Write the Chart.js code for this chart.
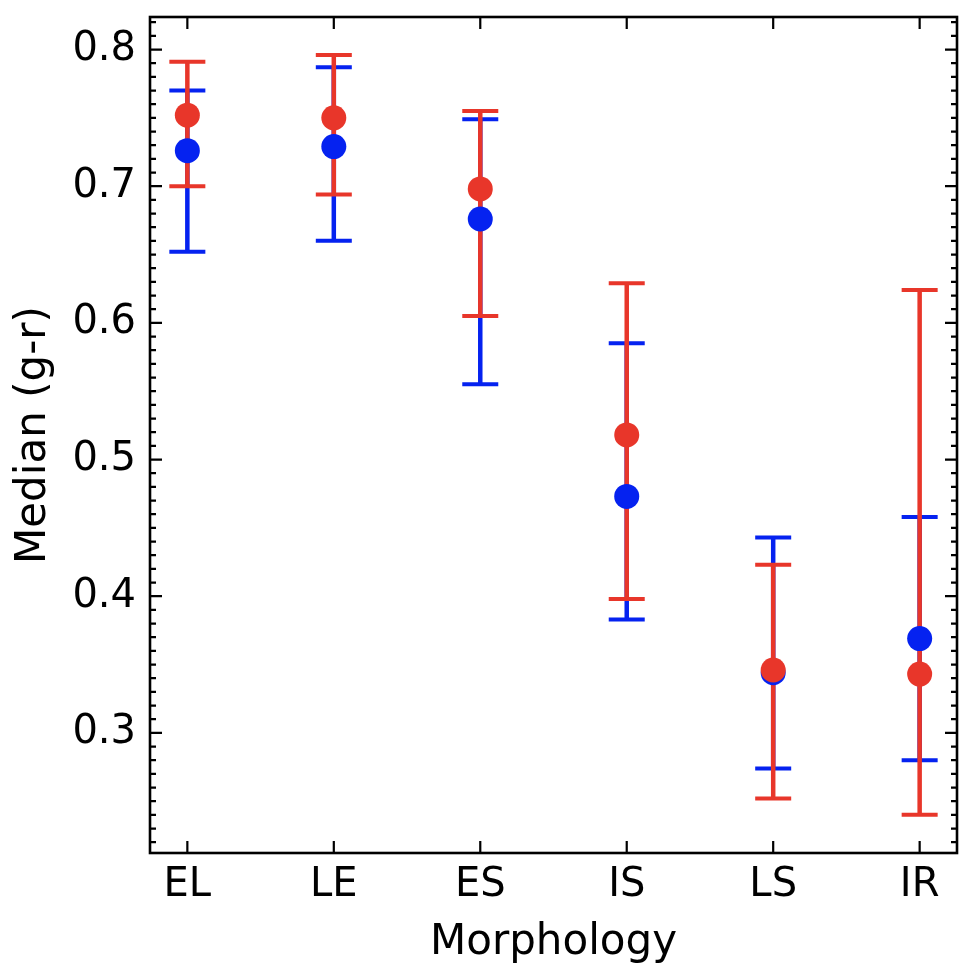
<!DOCTYPE html>
<html>
<head>
<meta charset="utf-8">
<script src="https://cdn.jsdelivr.net/npm/chart.js@4/dist/chart.umd.min.js"></script>
<style>
  html, body { margin: 0; padding: 0; background: #fff; }
  #chart { display: block; }
</style>
</head>
<body>
<canvas id="chart" width="976" height="974"></canvas>
<script>
const categories = ['EL', 'LE', 'ES', 'IS', 'LS', 'IR'];

// blue sample: median and error bar ends
const blueMedian = [0.726, 0.729, 0.676, 0.473, 0.344, 0.369];
const blueHigh = [0.770, 0.787, 0.749, 0.585, 0.443, 0.458];
const blueLow = [0.652, 0.660, 0.555, 0.383, 0.274, 0.280];

// red sample
const redMedian = [0.752, 0.750, 0.698, 0.518, 0.346, 0.343];
const redHigh = [0.791, 0.796, 0.755, 0.629, 0.423, 0.624];
const redLow = [0.700, 0.694, 0.605, 0.398, 0.252, 0.240];

const yTickValues = [0.3, 0.4, 0.5, 0.6, 0.7, 0.8];
const yTickLabels = ['0.3', '0.4', '0.5', '0.6', '0.7', '0.8'];

const BLUE = '#0522f0';
const RED = '#e8362a';
const FONT = "'DejaVu Sans', sans-serif";

function toPoints(vals) {
    return vals.map((v, i) => ({ x: i, y: v }));
}

// error bars go under the markers
const errorBars = {
    id: 'errorBars',
    beforeDatasetsDraw(chart) {
        const ctx = chart.ctx;
        const xs = chart.scales.x, ys = chart.scales.y;
        const area = chart.chartArea;
        const sets = [[blueLow, blueHigh, BLUE], [redLow, redHigh, RED]];
        ctx.save();
        ctx.beginPath();
        ctx.rect(area.left, area.top, area.right - area.left, area.bottom - area.top);
        ctx.clip();
        sets.forEach(([lo, hi, col]) => {
            ctx.strokeStyle = col;
            for (let i = 0; i < lo.length; i++) {
                let px = xs.getPixelForValue(i);
                let y1 = ys.getPixelForValue(lo[i]);
                let y2 = ys.getPixelForValue(hi[i]);
                ctx.lineWidth = 4.5;
                ctx.beginPath();
                ctx.moveTo(px, y1);
                ctx.lineTo(px, y2);
                ctx.stroke();
                ctx.lineWidth = 4;
                ctx.beginPath();
                ctx.moveTo(px - 18, y1); ctx.lineTo(px + 18, y1);
                ctx.moveTo(px - 18, y2); ctx.lineTo(px + 18, y2);
                ctx.stroke();
            }
        });
        ctx.restore();
    }
};

// box frame with inward ticks on all four sides
const frameTicks = {
    id: 'frameTicks',
    afterDraw(chart) {
        const ctx = chart.ctx;
        const xs = chart.scales.x, ys = chart.scales.y;
        const a = chart.chartArea;
        ctx.save();
        ctx.strokeStyle = '#000';
        ctx.lineWidth = 2.2;
        ctx.beginPath();
        yTickValues.forEach(v => {
            let py = ys.getPixelForValue(v);
            ctx.moveTo(a.left, py); ctx.lineTo(a.left + 12, py);
            ctx.moveTo(a.right, py); ctx.lineTo(a.right - 12, py);
        });
        for (let k = 22; k <= 82; k++) {
            if (k % 10 == 0) continue;
            let py = ys.getPixelForValue(k / 100);
            ctx.moveTo(a.left, py); ctx.lineTo(a.left + 6, py);
            ctx.moveTo(a.right, py); ctx.lineTo(a.right - 6, py);
        }
        categories.forEach((c, i) => {
            let px = xs.getPixelForValue(i);
            ctx.moveTo(px, a.bottom); ctx.lineTo(px, a.bottom - 12);
            ctx.moveTo(px, a.top); ctx.lineTo(px, a.top + 12);
        });
        ctx.stroke();
        ctx.lineWidth = 2.6;
        ctx.strokeRect(a.left, a.top, a.right - a.left, a.bottom - a.top);
        ctx.restore();
    }
};

const ctx = document.getElementById('chart').getContext('2d');
const chart = new Chart(ctx, {
    type: 'scatter',
    data: {
        datasets: [
            {
                label: 'blue',
                data: toPoints(blueMedian),
                backgroundColor: BLUE,
                borderWidth: 0,
                pointRadius: 12.5,
                order: 2
            },
            {
                label: 'red',
                data: toPoints(redMedian),
                backgroundColor: RED,
                borderWidth: 0,
                pointRadius: 12.5,
                order: 1
            }
        ]
    },
    options: {
        responsive: false,
        animation: false,
        devicePixelRatio: 1,
        layout: { autoPadding: false, padding: { top: 17, right: 19, left: 0, bottom: 0 } },
        plugins: {
            legend: { display: false },
            tooltip: { enabled: false }
        },
        scales: {
            x: {
                type: 'linear',
                min: -0.255,
                max: 5.255,
                grid: { display: false, drawTicks: false },
                border: { display: false },
                afterBuildTicks: s => { s.ticks = categories.map((c, i) => ({ value: i })); },
                afterFit: s => { s.height = 121; s.paddingLeft = 0; s.paddingRight = 0; },
                ticks: {
                    autoSkip: false,
                    maxRotation: 0,
                    padding: 9,
                    color: '#000',
                    font: { family: FONT, size: 40 },
                    callback: (v, i) => categories[i]
                },
                title: {
                    display: true,
                    text: 'Morphology',
                    color: '#000',
                    font: { family: FONT, size: 42 },
                    padding: { top: 0, bottom: 6 }
                }
            },
            y: {
                type: 'linear',
                min: 0.2121,
                max: 0.8238,
                grid: { display: false, drawTicks: false },
                border: { display: false },
                afterBuildTicks: s => { s.ticks = yTickValues.map(v => ({ value: v })); },
                afterFit: s => { s.width = 150; s.paddingTop = 0; s.paddingBottom = 0; },
                ticks: {
                    padding: 14,
                    color: '#000',
                    font: { family: FONT, size: 40 },
                    callback: (v, i) => yTickLabels[i]
                },
                title: {
                    display: true,
                    text: 'Median (g-r)',
                    color: '#000',
                    font: { family: FONT, size: 42 },
                    padding: { top: 9, bottom: 0 }
                }
            }
        }
    },
    plugins: [errorBars, frameTicks]
});
</script>
</body>
</html>
